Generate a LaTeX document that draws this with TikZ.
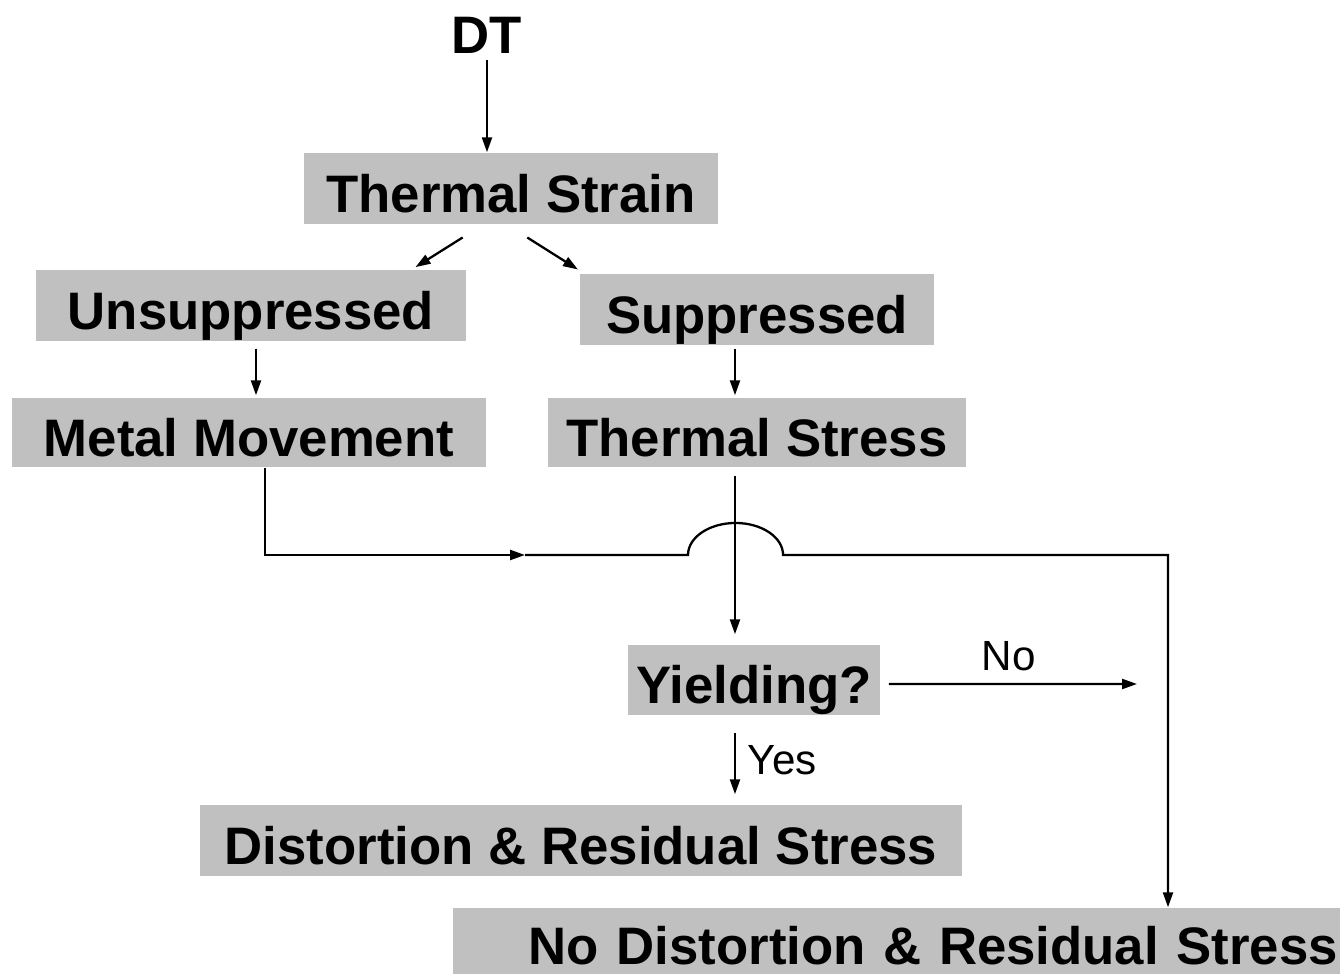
\documentclass[tikz,border=0pt]{standalone}
\usepackage{fontspec}
\setmainfont{Liberation Sans}
\usetikzlibrary{arrows.meta}
\definecolor{boxgray}{RGB}{192,192,192}
\tikzset{
  box/.style={fill=boxgray, inner sep=0pt, text height=13.5pt, text depth=0pt, font=\bfseries\fontsize{15}{18}\selectfont},
  flow/.style={line width=0.65pt, -{Triangle[length=0.15cm,width=0.10cm]}},
  lbl/.style={font=\fontsize{12}{14}\selectfont}
}
\begin{document}
\begin{tikzpicture}[x=0.01cm, y=-0.01cm]
        \useasboundingbox (0,0) rectangle (1340,974);

        % causa
        \node[font=\bfseries\fontsize{15}{18}\selectfont, inner sep=0pt] (dt) at (487,35) {DT};

        % deformazione
        \node[box, minimum width=4.14cm, minimum height=0.71cm] (strain) at (511,188.5) {Thermal Strain};
        \node[box, minimum width=4.30cm, minimum height=0.71cm] (unsup) at (251,305.5) {Unsuppressed};
        \node[box, minimum width=3.54cm, minimum height=0.71cm] (sup) at (757,309.5) {Suppressed};
        \node[box, minimum width=4.74cm, minimum height=0.69cm] (metal) at (249,432.5) {Metal Movement};
        \node[box, minimum width=4.18cm, minimum height=0.69cm] (stress) at (757,432.5) {Thermal Stress};

        % snervamento
        \node[box, minimum width=2.52cm, minimum height=0.70cm] (yield) at (754,680) {Yielding?};
        \node[box, minimum width=7.62cm, minimum height=0.71cm] (dist) at (581,840.5) {Distortion \& Residual Stress};
        \node[box, minimum width=8.87cm, minimum height=0.66cm, text width=8.82cm, align=right] (nodist) at (896.5,941) {No Distortion \& Residual Stress};

        % punti di passaggio
        \coordinate (mid) at (525,555);
        \coordinate (hopL) at (688,555);
        \coordinate (corner) at (1168,555);
        \coordinate (noend) at (1137,684);

        % frecce
        \draw[flow, shorten <=0.06cm] (dt.south) -- (dt.south |- strain.north);
        \draw[flow, shorten <=0.24cm, shorten >=0.04cm] ([xshift=-0.28cm]strain.south) -- ([xshift=1.61cm]unsup.north);
        \draw[flow, shorten <=0.24cm, shorten >=0.07cm] ([xshift=-0.04cm]strain.south) -- ([xshift=-1.73cm]sup.north);
        \draw[flow, shorten <=0.07cm, shorten >=0.02cm] ([xshift=0.05cm]unsup.south) -- ([xshift=0.05cm]unsup.south |- metal.north);
        \draw[flow, shorten <=0.03cm, shorten >=0.02cm] ([xshift=-0.22cm]sup.south) -- ([xshift=-0.22cm]sup.south |- stress.north);

        % percorso senza vincolo
        \draw[flow] ([xshift=0.16cm]metal.south) |- (mid);
        \draw[flow] (mid) -- (hopL) arc[start angle=180, end angle=0, x radius=0.475cm, y radius=0.32cm] -- (corner) -- (corner |- nodist.north);

        % percorso con vincolo
        \draw[flow, shorten <=0.08cm, shorten >=0.10cm] ([xshift=-0.22cm]stress.south) -- ([xshift=-0.22cm]stress.south |- yield.north);
        \draw[flow, shorten <=0.08cm] ([yshift=-0.04cm]yield.east) -- (noend) node[lbl, midway, above] {No};
        \draw[flow, shorten <=0.17cm, shorten >=0.10cm] ([xshift=-0.19cm]yield.south) -- ([xshift=-0.19cm]yield.south |- dist.north) node[lbl, midway, right] {Yes};
\end{tikzpicture}
\end{document}
